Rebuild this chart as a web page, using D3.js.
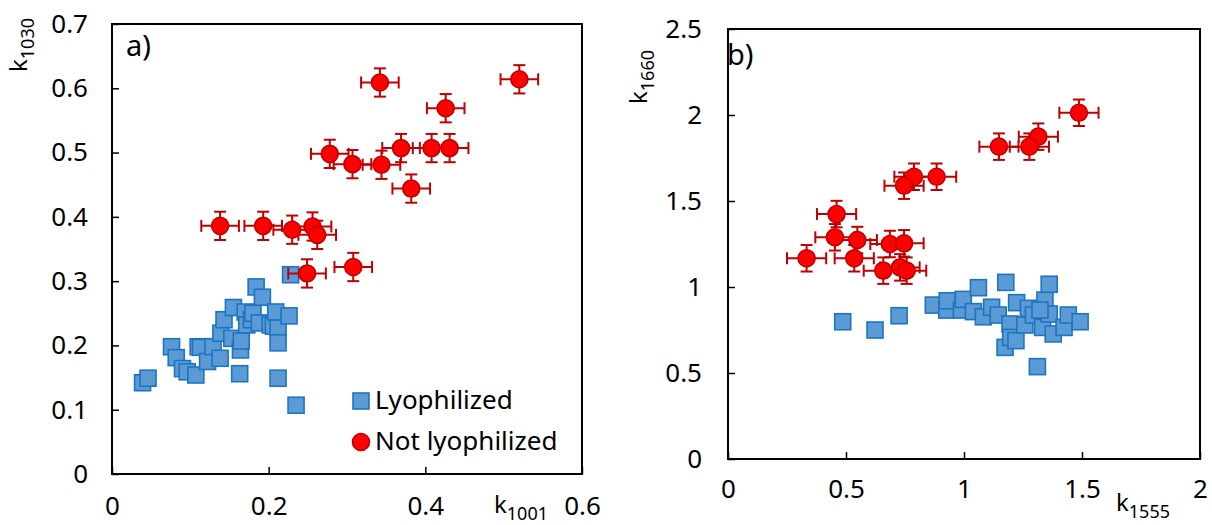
<!DOCTYPE html>
<html lang="en">
  <head>
    <meta charset="utf-8">
    <title>k ratios: lyophilized vs not lyophilized</title>
    <style type="text/css">
      body { margin: 0; background: #fff; }
      svg { display: block; font-family: "Noto Sans", sans-serif; }
    </style>
  </head>
  <body>
    <script src="https://d3js.org/d3.v7.min.js"></script>
    <script type="text/javascript">
    // ===================================
    // DATA
    // ===================================
      // panel a) k1001 vs k1030
      var aLyoX = [0.039, 0.046, 0.076, 0.082, 0.090, 0.096, 0.107, 0.110, 0.113, 0.122,
                   0.129, 0.138, 0.139, 0.143, 0.153, 0.155, 0.163, 0.164, 0.165, 0.170,
                   0.172, 0.178, 0.180, 0.184, 0.188, 0.192, 0.202, 0.206, 0.209, 0.212,
                   0.212, 0.212, 0.226, 0.228, 0.235];
      var aLyoY = [0.142, 0.149, 0.198, 0.181, 0.164, 0.159, 0.154, 0.198, 0.197, 0.175,
                   0.198, 0.180, 0.219, 0.240, 0.211, 0.259, 0.156, 0.193, 0.207, 0.252,
                   0.232, 0.240, 0.250, 0.291, 0.235, 0.275, 0.232, 0.230, 0.252, 0.227,
                   0.204, 0.149, 0.246, 0.310, 0.107];
      var aNotX = [0.138, 0.193, 0.230, 0.256, 0.262, 0.278, 0.307, 0.344, 0.369, 0.408,
                   0.431, 0.382, 0.342, 0.426, 0.520, 0.249, 0.308];
      var aNotY = [0.386, 0.386, 0.380, 0.385, 0.372, 0.498, 0.482, 0.481, 0.507, 0.507,
                   0.507, 0.444, 0.609, 0.569, 0.614, 0.312, 0.322];
      var aErrX = 0.024;
      var aErrY = 0.022;
      var aXTicks = [0, 0.2, 0.4, 0.6];
      var aYTicks = [0, 0.1, 0.2, 0.3, 0.4, 0.5, 0.6, 0.7];

      // panel b) k1555 vs k1660
      var bLyoX = [0.486, 0.623, 0.725, 0.870, 0.927, 0.929, 0.989, 0.997, 1.040, 1.061,
                   1.082, 1.117, 1.145, 1.177, 1.174, 1.195, 1.198, 1.220, 1.223, 1.258,
                   1.273, 1.294, 1.311, 1.333, 1.343, 1.361, 1.361, 1.378, 1.424, 1.442,
                   1.492, 1.322];
      var bLyoY = [0.798, 0.750, 0.833, 0.895, 0.866, 0.920, 0.866, 0.928, 0.857, 0.996,
                   0.827, 0.882, 0.837, 1.027, 0.649, 0.785, 0.707, 0.688, 0.909, 0.779,
                   0.876, 0.837, 0.537, 0.765, 0.924, 1.016, 0.843, 0.727, 0.765, 0.837,
                   0.798, 0.866];
      var bNotX = [1.487, 1.315, 1.148, 1.277, 0.788, 0.884, 0.746, 0.460, 0.453, 0.548,
                   0.686, 0.746, 0.333, 0.535, 0.658, 0.729, 0.757];
      var bNotY = [2.013, 1.874, 1.816, 1.816, 1.641, 1.641, 1.589, 1.424, 1.289, 1.273,
                   1.250, 1.254, 1.167, 1.167, 1.095, 1.114, 1.095];
      var bErrX = 0.083;
      var bErrY = 0.077;
      var bXTicks = [0, 0.5, 1, 1.5, 2];
      var bYTicks = [0, 0.5, 1, 1.5, 2, 2.5];

      var legendLabels = ["Lyophilized", "Not lyophilized"];

    // ===================================
    // STYLE
    // ===================================
      var blueFill = "#5b9bd5", blueStroke = "#1f74c2";
      var redFill = "#ff0000", redStroke = "#c00000";
      var tickFont = 26;

      var svg = d3.select("body")
        .append("svg")
        .attr("width", 1212)
        .attr("height", 525);

      function zip(xs, ys) {
        return xs.map(function(x, i) { return { x: x, y: ys[i] }; });
      }

    // ===================================
    // PANEL BUILDER
    // ===================================
      function drawPanel(p) {
        var x = d3.scaleLinear().domain(p.xDomain).range([p.left, p.right]);
        var y = d3.scaleLinear().domain(p.yDomain).range([p.bottom, p.top]);
        var g = svg.append("g");

        // x axis, ticks pointing inwards
        var xAxis = g.append("g")
          .attr("transform", "translate(0," + p.bottom + ")")
          .call(d3.axisBottom(x).tickValues(p.xTicks).tickSizeInner(-7).tickSizeOuter(0)
            .tickPadding(p.xPad).tickFormat(d3.format("")));
        var yAxis = g.append("g")
          .attr("transform", "translate(" + p.left + ",0)")
          .call(d3.axisLeft(y).tickValues(p.yTicks).tickSizeInner(-7).tickSizeOuter(0)
            .tickPadding(p.yPad).tickFormat(d3.format("")));
        [xAxis, yAxis].forEach(function(ax) {
          ax.select(".domain").remove();
          ax.selectAll("line").attr("stroke", "#000").attr("stroke-width", 1.5);
          ax.selectAll("text").attr("fill", "#000")
            .style("font-size", tickFont + "px").style("font-family", "Noto Sans");
        });

        // plot area frame
        g.append("rect")
          .attr("x", p.left).attr("y", p.top)
          .attr("width", p.right - p.left).attr("height", p.bottom - p.top)
          .attr("fill", "none").attr("stroke", "#000").attr("stroke-width", 2);

        // lyophilized squares
        var s = 16;
        g.selectAll("rect.lyo")
          .data(zip(p.lyoX, p.lyoY))
          .enter()
          .append("rect")
          .attr("class", "lyo")
          .attr("x", function(d) { return x(d.x) - s / 2; })
          .attr("y", function(d) { return y(d.y) - s / 2; })
          .attr("width", s).attr("height", s)
          .attr("fill", blueFill).attr("stroke", blueStroke).attr("stroke-width", 1.6);

        // not lyophilized: error bars then circles
        var not = zip(p.notX, p.notY);
        var cap = 6;
        var eb = g.selectAll("g.err")
          .data(not)
          .enter()
          .append("g")
          .attr("class", "err")
          .attr("stroke", redStroke).attr("stroke-width", 2);
        eb.append("line")
          .attr("x1", function(d) { return x(d.x - p.errX); })
          .attr("x2", function(d) { return x(d.x + p.errX); })
          .attr("y1", function(d) { return y(d.y); })
          .attr("y2", function(d) { return y(d.y); });
        eb.append("line")
          .attr("x1", function(d) { return x(d.x); })
          .attr("x2", function(d) { return x(d.x); })
          .attr("y1", function(d) { return y(d.y - p.errY); })
          .attr("y2", function(d) { return y(d.y + p.errY); });
        [-1, 1].forEach(function(sg) {
          eb.append("line")
            .attr("x1", function(d) { return x(d.x + sg * p.errX); })
            .attr("x2", function(d) { return x(d.x + sg * p.errX); })
            .attr("y1", function(d) { return y(d.y) - cap; })
            .attr("y2", function(d) { return y(d.y) + cap; });
          eb.append("line")
            .attr("x1", function(d) { return x(d.x) - cap; })
            .attr("x2", function(d) { return x(d.x) + cap; })
            .attr("y1", function(d) { return y(d.y + sg * p.errY); })
            .attr("y2", function(d) { return y(d.y + sg * p.errY); });
        });
        g.selectAll("circle.not")
          .data(not)
          .enter()
          .append("circle")
          .attr("class", "not")
          .attr("cx", function(d) { return x(d.x); })
          .attr("cy", function(d) { return y(d.y); })
          .attr("r", 8.5)
          .attr("fill", redFill).attr("stroke", redStroke).attr("stroke-width", 1.6);

        // panel letter
        g.append("text")
          .attr("x", p.letterX).attr("y", p.letterY)
          .style("font-size", "29px")
          .text(p.letter);

        // axis titles with subscripts
        var xt = g.append("text")
          .attr("x", p.xTitle[0]).attr("y", p.xTitle[1])
          .style("font-size", "24px");
        xt.append("tspan").text("k");
        xt.append("tspan").attr("dy", 7).style("font-size", "18px").text(p.xSub);

        var yt = g.append("text")
          .attr("transform", "translate(" + p.yTitle[0] + "," + p.yTitle[1] + ") rotate(-90)")
          .attr("text-anchor", "middle")
          .style("font-size", "24px");
        yt.append("tspan").text("k");
        yt.append("tspan").attr("dy", 7).style("font-size", "18px").text(p.ySub);

        return { x: x, y: y, g: g };
      }

      var pa = drawPanel({
        left: 112, right: 582, top: 24, bottom: 474,
        xDomain: [0, 0.6], yDomain: [0, 0.7],
        xTicks: aXTicks, yTicks: aYTicks, xPad: 23, yPad: 24,
        lyoX: aLyoX, lyoY: aLyoY, notX: aNotX, notY: aNotY,
        errX: aErrX, errY: aErrY,
        letter: "a)", letterX: 126, letterY: 56,
        xTitle: [494, 513], xSub: "1001",
        yTitle: [27, 45], ySub: "1030"
      });

      var pb = drawPanel({
        left: 728, right: 1200, top: 29, bottom: 459,
        xDomain: [0, 2], yDomain: [0, 2.5],
        xTicks: bXTicks, yTicks: bYTicks, xPad: 21, yPad: 26,
        lyoX: bLyoX, lyoY: bLyoY, notX: bNotX, notY: bNotY,
        errX: bErrX, errY: bErrY,
        letter: "b)", letterX: 727, letterY: 65,
        xTitle: [1116, 511], xSub: "1555",
        yTitle: [647, 77], ySub: "1660"
      });

    // ===================================
    // LEGEND (panel a)
    // ===================================
      var leg = pa.g.append("g").attr("transform", "translate(352,392)");
      leg.append("rect")
        .attr("x", 1).attr("y", 1).attr("width", 16).attr("height", 16)
        .attr("fill", blueFill).attr("stroke", blueStroke).attr("stroke-width", 1.6);
      leg.append("circle")
        .attr("cx", 9).attr("cy", 50).attr("r", 8.5)
        .attr("fill", redFill).attr("stroke", redStroke).attr("stroke-width", 1.6);
      leg.selectAll("text.leg")
        .data(legendLabels)
        .enter()
        .append("text")
        .attr("class", "leg")
        .attr("x", 23)
        .attr("y", function(d, i) { return 17 + i * 41; })
        .style("font-size", "26px")
        .text(function(d) { return d; });
    </script>
  </body>
</html>
